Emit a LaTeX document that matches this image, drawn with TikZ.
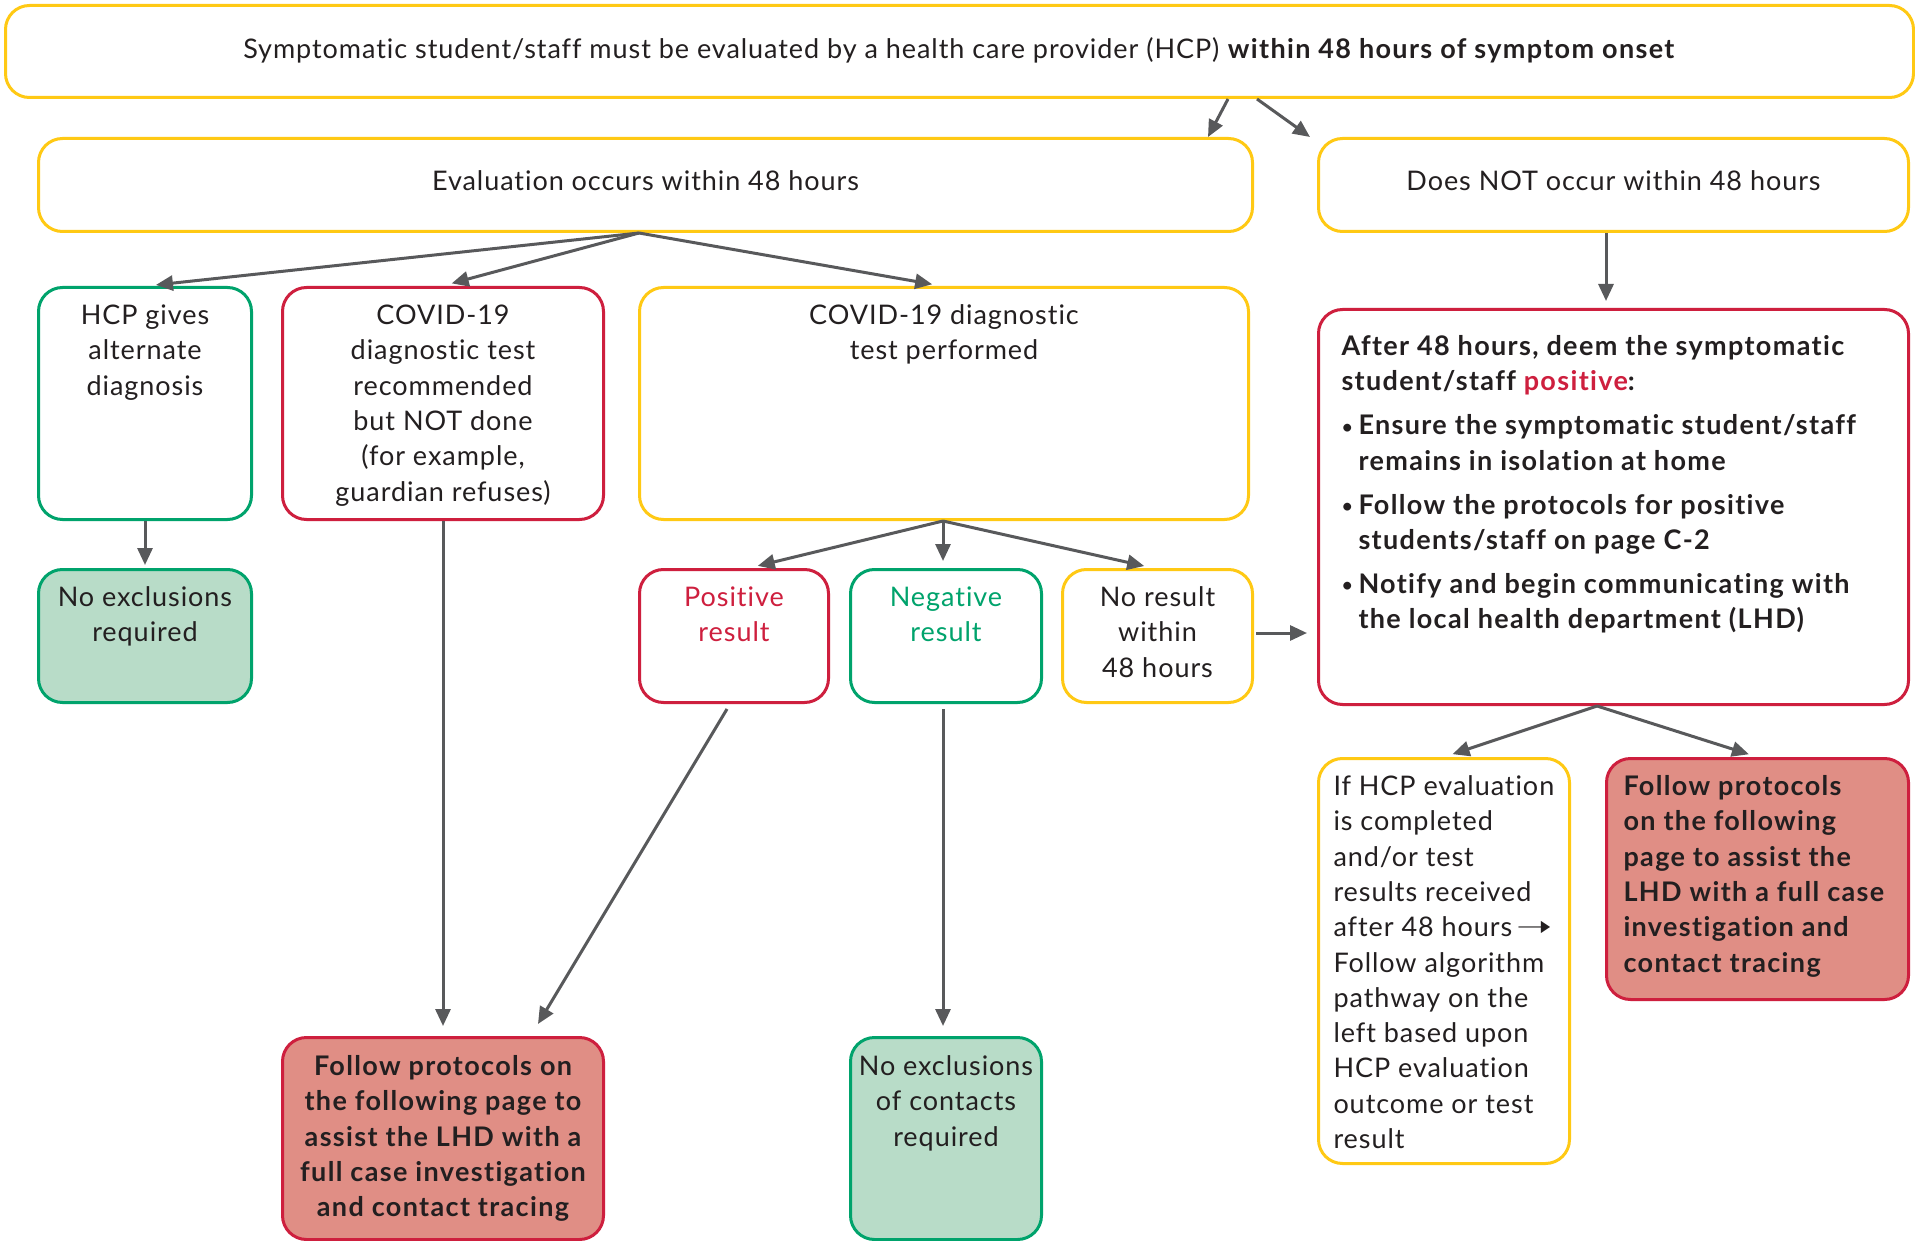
\documentclass[tikz,border=0pt]{standalone}
\usepackage{fontspec}
\setmainfont{Lato}[Ligatures={TeX,NoCommon},LetterSpace=3.5,BoldFeatures={LetterSpace=5}]
\newfontfamily\symfont{DejaVu Sans}
\usetikzlibrary{arrows.meta,calc}
\definecolor{cyel}{HTML}{FFC914}
\definecolor{cred}{HTML}{CE1F3E}
\definecolor{cgrn}{HTML}{00A36C}
\definecolor{fred}{HTML}{E08E85}
\definecolor{fgrn}{HTML}{B8DCC8}
\definecolor{carr}{HTML}{58595B}
\definecolor{ctxt}{HTML}{231F20}
% centred text, top aligned: width, height, first-baseline offset, text
\newcommand\ctext[4]{\parbox[c][#2pt][t]{#1pt}{\centering\rule{0pt}{#3pt}#4\par}}
\newcommand\ltext[5]{\parbox[c][#2pt][t]{#1pt}{\raggedright\leftskip=#4pt\rule{0pt}{#3pt}#5\par}}
\newcommand\bul{\leavevmode\llap{\raisebox{1.5pt}{\fontsize{18}{18}\selectfont\textbullet}\hspace{6pt}}}
\newcommand\rarr{\,\raisebox{0.5pt}{\scalebox{1.8}[1.2]{\symfont\fontsize{24}{24}\selectfont ➝}}}
\begin{document}
\begin{tikzpicture}[x=1pt,y=-1pt,
  box/.style={draw, line width=3pt, rounded corners=24pt, inner sep=0pt, anchor=north west,
    font=\fontsize{27}{35.3}\selectfont, text=ctxt},
  ybox/.style={box, draw=cyel, fill=white},
  rbox/.style={box, draw=cred, fill=white},
  gbox/.style={box, draw=cgrn, fill=white},
  rfill/.style={box, draw=cred, fill=fred},
  gfill/.style={box, draw=cgrn, fill=fgrn},
  arr/.style={draw=carr, line width=3pt, -{Triangle[length=17pt,width=15pt]}, carr}]
\useasboundingbox (0,0) rectangle (1915,1241);
\fill[white] (0,0) rectangle (1915,1241);

\node[ybox] (top) at (4,4) {\ctext{1908}{92}{53}{Symptomatic student/staff must be evaluated by a health care provider (HCP) \textbf{within 48 hours of symptom onset}}};
\node[ybox] (eval) at (37,137) {\ctext{1214}{93}{52}{Evaluation occurs within 48 hours}};
\node[ybox] (dnot) at (1317,137) {\ctext{590}{93}{52}{Does NOT occur within 48 hours}};

\node[gbox] (hcp) at (37,286) {\ctext{213}{232}{37}{HCP gives\\alternate\\diagnosis}};
\node[rbox] (notdone) at (281,286) {\ctext{321}{232}{37}{COVID-19\\diagnostic test\\recommended\\but NOT done\\(for example,\\guardian refuses)}};
\node[ybox] (perf) at (638,286) {\ctext{609}{232}{37}{COVID-19 diagnostic\\test performed}};

\node[rbox] (after) at (1317,308) {\parbox[c][395pt][t]{590pt}{\bfseries\raggedright
  {\leftskip=23pt\rule{0pt}{46pt}After 48 hours, deem the symptomatic\\student/staff \textcolor{cred}{positive}:\par}
  {\leftskip=40pt
  \vspace{8.7pt}\bul Ensure the symptomatic student/staff\\remains in isolation at home\par
  \vspace{8.7pt}\bul Follow the protocols for positive\\students/staff on page C-2\par
  \vspace{8.7pt}\bul Notify and begin communicating with\\the local health department (LHD)\par}}};

\node[gfill] (noex) at (37,568) {\ctext{213}{133}{37}{No exclusions\\required}};
\node[rbox] (pos) at (638,568) {\ctext{189}{133}{37}{\textcolor{cred}{Positive\\result}}};
\node[gbox] (neg) at (849,568) {\ctext{191}{133}{37}{\textcolor{cgrn}{Negative\\result}}};
\node[ybox] (nores) at (1061,568) {\ctext{190}{133}{37}{No result\\within\\48 hours}};

\node[ybox] (ifhcp) at (1317,757) {\ltext{251}{405}{37}{15}{If HCP evaluation\\is completed\\and/or test\\results received\\after 48 hours\rarr\\Follow algorithm\\pathway on the\\left based upon\\HCP evaluation\\outcome or test\\result}};
\node[rfill] (folr) at (1605,757) {\ltext{302}{241}{37}{17}{\bfseries Follow protocols\\on the following\\page to assist the\\LHD with a full case\\investigation and\\contact tracing}};

\node[rfill] (folb) at (281,1036) {\ctext{321}{202}{38}{\bfseries Follow protocols on\\the following page to\\assist the LHD with a\\full case investigation\\and contact tracing}};
\node[gfill] (noexc) at (849,1036) {\ctext{191}{202}{38}{No exclusions\\of contacts\\required}};

% connectors
\draw[arr] (1228,0 |- top.south) -- (1208,0 |- eval.north);
\draw[arr] (1257,0 |- top.south) -- (1310,0 |- eval.north);
\draw[arr, shorten >=7pt] (1606,0 |- dnot.south) -- (1606,0 |- after.north);

\draw[arr, shorten >=10pt] (639,0 |- eval.south) -- (146,0 |- hcp.north);
\draw[arr, shorten >=10pt] (639,0 |- eval.south) -- (442,0 |- notdone.north);
\draw[arr, shorten >=10pt] (639,0 |- eval.south) -- (942,0 |- perf.north);

\draw[arr, shorten >=3pt] (hcp.south) -- (noex.north);
\draw[arr, shorten >=10pt] (notdone.south) -- (folb.north);
\draw[arr] ($(pos.south)+(-7,5)$) -- ($(folb.north)+(95,-12)$);

\draw[arr, shorten >=9pt] (943,0 |- perf.south) -- (749,0 |- pos.north);
\draw[arr, shorten >=7pt] (943,0 |- perf.south) -- (943,0 |- neg.north);
\draw[arr, shorten >=9pt] (943,0 |- perf.south) -- (1153,0 |- nores.north);

\draw[arr, shorten <=5pt, shorten >=10pt] (943,0 |- neg.south) -- (943,0 |- noexc.north);
\draw[arr] ($(nores.east)+(2,-3)$) -- ($(nores.east -| after.west)+(-10,-3)$);

\draw[arr, shorten >=9pt] (1597,0 |- after.south) -- (ifhcp.north);
\draw[arr, shorten >=9pt] (1597,0 |- after.south) -- (folr.north);
\end{tikzpicture}
\end{document}
